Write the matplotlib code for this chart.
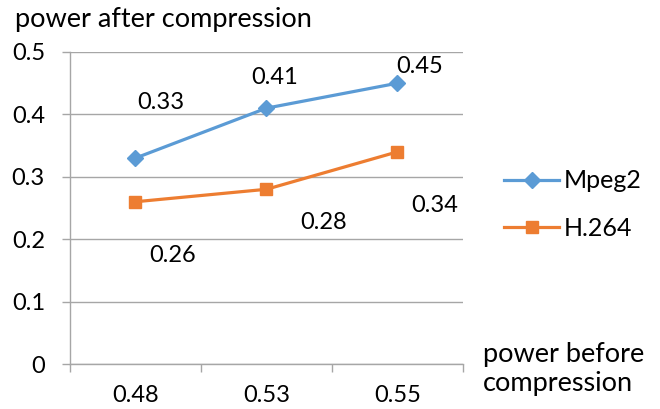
import matplotlib
matplotlib.use("Agg")
import matplotlib.pyplot as plt
from matplotlib.lines import Line2D

categories = ["0.48", "0.53", "0.55"]
mpeg2 = [0.33, 0.41, 0.45]
h264 = [0.26, 0.28, 0.34]
y_ticks = [0, 0.1, 0.2, 0.3, 0.4, 0.5]

# label offsets (points) for each data label
mpeg2_offsets = [(18, 40), (6, 22), (16, 12)]
h264_offsets = [(27, -39), (41, -24), (27, -39)]

BLUE = "#5B9BD5"
ORANGE = "#ED7D31"
GRID = "#A6A6A6"
FONT = "Lato"
FS_NUM = 17
FS_TXT = 19.5
FS_LEG = 18

plt.rcParams["font.family"] = [FONT, "DejaVu Sans"]

fig = plt.figure(figsize=(6.6, 4.09), dpi=100)
ax = fig.add_axes([0.106, 0.110, 0.5955, 0.7629])

x = list(range(len(categories)))
ax.plot(x, mpeg2, color=BLUE, lw=2.3, marker="D", ms=8.5, label="Mpeg2", zorder=3)
ax.plot(x, h264, color=ORANGE, lw=2.3, marker="s", ms=8.5, label="H.264", zorder=3)

for xi, v, off in zip(x, mpeg2, mpeg2_offsets):
    ax.annotate(f"{v:.2f}", (xi, v), xytext=off, textcoords="offset points",
                ha="center", va="center", fontsize=FS_NUM, color="black")
for xi, v, off in zip(x, h264, h264_offsets):
    ax.annotate(f"{v:.2f}", (xi, v), xytext=off, textcoords="offset points",
                ha="center", va="center", fontsize=FS_NUM, color="black")

ax.set_xlim(-0.5, len(categories) - 0.5)
ax.set_ylim(0, 0.5)
ax.set_yticks(y_ticks)
ax.set_yticklabels([f"{t:g}" for t in y_ticks], fontsize=FS_NUM)
ax.set_xticks(x)
ax.set_xticklabels(categories, fontsize=FS_NUM)
ax.set_xticks([i - 0.5 for i in range(len(categories) + 1)], minor=True)
ax.tick_params(axis="x", which="major", length=0, pad=15)
ax.tick_params(axis="x", which="minor", length=6, color=GRID, width=1)
ax.tick_params(axis="y", length=6, color=GRID, width=1, pad=12)

ax.grid(axis="y", color=GRID, lw=1)
ax.set_axisbelow(True)
for side in ["top", "right"]:
    ax.spines[side].set_visible(False)
for side in ["left", "bottom"]:
    ax.spines[side].set_color(GRID)
    ax.spines[side].set_linewidth(1)

fig.text(15 / 660, 1 - 19 / 409, "power after compression", fontsize=FS_TXT,
         ha="left", va="center")
fig.text(483 / 660, 1 - 369 / 409, "power before\ncompression", fontsize=FS_TXT,
         ha="left", va="center", linespacing=1.2)

# one legend entry per series, stacked at the right of the plot
legend_rows = [("Mpeg2", BLUE, "D", 181), ("H.264", ORANGE, "s", 228)]
for name, color, marker, ypx in legend_rows:
    handle = Line2D([], [], color=color, lw=2.3, marker=marker, ms=8.5)
    leg = fig.legend([handle], [name], loc="center left",
                     bbox_to_anchor=(504 / 660, 1 - ypx / 409),
                     frameon=False, fontsize=FS_LEG, handlelength=2.2,
                     handletextpad=0.2, borderpad=0, borderaxespad=0)

fig.savefig("out.png", dpi=100)
